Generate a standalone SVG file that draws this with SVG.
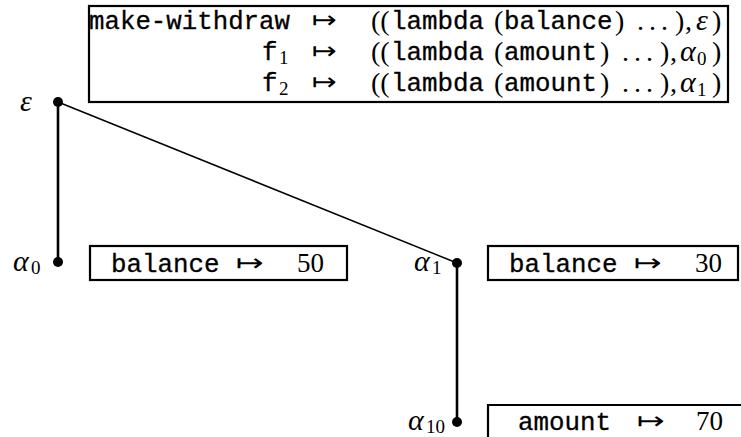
<svg xmlns="http://www.w3.org/2000/svg" width="741" height="437" viewBox="0 0 741 437">
<style>
.bg{fill:#fff}
.box{fill:none;stroke:#000;stroke-width:2.2}
.tt{font-family:"Liberation Mono","DejaVu Sans Mono",monospace;font-size:25px;fill:#000;stroke:#000;stroke-width:0.3}
.rm{font-family:"Liberation Serif","DejaVu Serif",serif;font-size:28px;fill:#000}
.num{font-family:"Liberation Serif","DejaVu Serif",serif;font-size:27px;fill:#000}
.sub{font-family:"Liberation Serif","DejaVu Serif",serif;font-size:19px;fill:#000}
.mi{font-family:"Liberation Serif","DejaVu Serif",serif;font-style:italic;font-size:30px;fill:#000}
.ar{font-family:"DejaVu Sans",sans-serif;font-size:24px;fill:#000}
.dot{fill:#000}
.thick{stroke:#000;stroke-width:2.6;fill:none}
.thin{stroke:#000;stroke-width:1.5;fill:none}
</style>
<rect class="bg" x="0" y="0" width="741" height="437"/>
<g id="connectors">
<line class="thick" x1="58" y1="102" x2="58" y2="262"/>
<line class="thin" x1="58" y1="102" x2="457" y2="263"/>
<line class="thick" x1="457" y1="263" x2="457" y2="422"/>
</g>
<g id="global-frame">
<rect class="box" x="89" y="6" width="639" height="96"/>
<text class="tt" x="89" y="29" textLength="201" lengthAdjust="spacingAndGlyphs">make-withdraw</text>
<text class="ar" x="312" y="28" textLength="25" lengthAdjust="spacingAndGlyphs">↦</text>
<text class="rm" x="371" y="30">((</text>
<text class="tt" x="391" y="29" textLength="93" lengthAdjust="spacingAndGlyphs">lambda</text>
<text class="rm" x="494" y="30">(</text>
<text class="tt" x="504" y="29" textLength="108.5" lengthAdjust="spacingAndGlyphs">balance</text>
<text class="rm" x="615" y="30">)</text>
<text class="rm" x="637" y="30" letter-spacing="5">...</text>
<text class="rm" x="675" y="30">)</text>
<text class="rm" x="685" y="30">,</text>
<text class="mi" x="696" y="30" font-size="27">ε</text>
<text class="rm" x="712" y="30">)</text>

<text class="tt" x="262" y="60" textLength="15.5" lengthAdjust="spacingAndGlyphs">f</text>
<text class="sub" x="279" y="64">1</text>
<text class="ar" x="312" y="59" textLength="25" lengthAdjust="spacingAndGlyphs">↦</text>
<text class="rm" x="371" y="61">((</text>
<text class="tt" x="391" y="60" textLength="93" lengthAdjust="spacingAndGlyphs">lambda</text>
<text class="rm" x="494" y="61">(</text>
<text class="tt" x="504" y="60" textLength="93" lengthAdjust="spacingAndGlyphs">amount</text>
<text class="rm" x="600" y="61">)</text>
<text class="rm" x="622" y="61" letter-spacing="5">...</text>
<text class="rm" x="660" y="61">)</text>
<text class="rm" x="670" y="61">,</text>
<text class="mi" x="680" y="61">α</text>
<text class="sub" x="697" y="65">0</text>
<text class="rm" x="712" y="61">)</text>

<text class="tt" x="262" y="91" textLength="15.5" lengthAdjust="spacingAndGlyphs">f</text>
<text class="sub" x="279" y="95">2</text>
<text class="ar" x="312" y="90" textLength="25" lengthAdjust="spacingAndGlyphs">↦</text>
<text class="rm" x="371" y="92">((</text>
<text class="tt" x="391" y="91" textLength="93" lengthAdjust="spacingAndGlyphs">lambda</text>
<text class="rm" x="494" y="92">(</text>
<text class="tt" x="504" y="91" textLength="93" lengthAdjust="spacingAndGlyphs">amount</text>
<text class="rm" x="600" y="92">)</text>
<text class="rm" x="622" y="92" letter-spacing="5">...</text>
<text class="rm" x="660" y="92">)</text>
<text class="rm" x="670" y="92">,</text>
<text class="mi" x="680" y="92">α</text>
<text class="sub" x="697" y="96">1</text>
<text class="rm" x="712" y="92">)</text>
</g>
<g id="env-epsilon">
<circle class="dot" cx="58" cy="102" r="5"/>
<text class="mi" x="20" y="111">ε</text>
</g>
<g id="env-alpha0">
<circle class="dot" cx="58" cy="262" r="5"/>
<text class="mi" x="13" y="271">α</text>
<text class="sub" x="31" y="274">0</text>
<rect class="box" x="90" y="246" width="257" height="34"/>
<text class="tt" x="111" y="272" textLength="108.5" lengthAdjust="spacingAndGlyphs">balance</text>
<text class="ar" x="236" y="271" textLength="28" lengthAdjust="spacingAndGlyphs">↦</text>
<text class="num" x="297" y="272">50</text>
</g>
<g id="env-alpha1">
<circle class="dot" cx="457" cy="263" r="5"/>
<text class="mi" x="414" y="271">α</text>
<text class="sub" x="432" y="274">1</text>
<rect class="box" x="488" y="246" width="250" height="34"/>
<text class="tt" x="509" y="272" textLength="108.5" lengthAdjust="spacingAndGlyphs">balance</text>
<text class="ar" x="634" y="271" textLength="28" lengthAdjust="spacingAndGlyphs">↦</text>
<text class="num" x="695" y="272">30</text>
</g>
<g id="env-alpha10">
<circle class="dot" cx="457" cy="422" r="5"/>
<text class="mi" x="408" y="430">α</text>
<text class="sub" x="426" y="433">10</text>
<path class="box" d="M488 440 V405 H745"/>
<text class="tt" x="518" y="430" textLength="93" lengthAdjust="spacingAndGlyphs">amount</text>
<text class="ar" x="637" y="429" textLength="28" lengthAdjust="spacingAndGlyphs">↦</text>
<text class="num" x="696" y="430">70</text>
</g>
</svg>
